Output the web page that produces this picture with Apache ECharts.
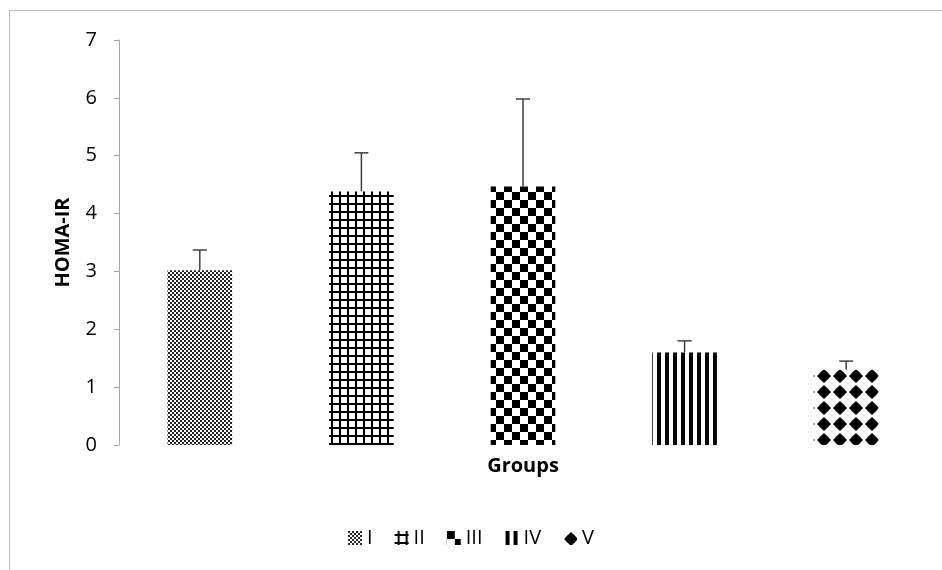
<!DOCTYPE html>
<html>
<head>
<meta charset="utf-8">
<script src="https://cdn.jsdelivr.net/npm/echarts@6/dist/echarts.min.js"></script>
<style>
  html, body { margin: 0; padding: 0; background: #fff; }
  #frame { position: absolute; left: 9px; top: 10px; width: 960px; height: 600px; border-left: 1px solid #bdbdbd; border-top: 1px solid #bdbdbd; }
  #chart { position: absolute; left: 0; top: 0; width: 942px; height: 570px; }
</style>
</head>
<body>
<div id="frame"></div>
<div id="chart"></div>
<script>
const groups = ['I', 'II', 'III', 'IV', 'V']
const homaIR = [3.02, 4.38, 4.47, 1.6, 1.3]
const homaErr = [0.35, 0.67, 1.51, 0.2, 0.15]
const yTicks = [0, 1, 2, 3, 4, 5, 6, 7]

// black & white fills like the original print figure
function makePattern(kind) {
  let size = kind === 'III' || kind === 'V' ? 16 : kind === 'I' ? 4 : 8
  let c = document.createElement('canvas')
  c.width = size
  c.height = size
  let ctx = c.getContext('2d')
  ctx.fillStyle = '#fff'
  ctx.fillRect(0, 0, size, size)
  ctx.fillStyle = '#000'
  if (kind === 'I') {
    ctx.fillStyle = '#222'
    ctx.fillRect(0, 0, 2, 2)
    ctx.fillRect(2, 2, 2, 2)
  } else if (kind === 'II') {
    ctx.fillRect(0, 3, 8, 2)
    ctx.fillRect(3, 0, 2, 8)
  } else if (kind === 'III') {
    ctx.fillRect(0, 0, 8, 8)
    ctx.fillRect(8, 8, 8, 8)
  } else if (kind === 'IV') {
    ctx.fillRect(1, 0, 4, 8)
  } else if (kind === 'V') {
    ctx.beginPath()
    ctx.arc(8, 8, 5, 0, Math.PI * 2)
    ctx.fill()
    ctx.beginPath()
    ctx.moveTo(8, 1)
    ctx.lineTo(15, 8)
    ctx.lineTo(8, 15)
    ctx.lineTo(1, 8)
    ctx.closePath()
    ctx.fill()
  }
  return { image: c, repeat: 'repeat' }
}

let myChart = echarts.init(document.getElementById('chart'))

let barSeries = groups.map(function (g, i) {
  return {
    name: g,
    type: 'bar',
    stack: 'all',
    barWidth: '40%',
    itemStyle: { color: makePattern(g) },
    data: homaIR.map(function (v, j) { return j === i ? v : '-' })
  }
})

let errSeries = {
  type: 'custom',
  silent: true,
  z: 1,
  data: homaIR.map(function (v, i) { return [i, v, v + homaErr[i]] }),
  renderItem: function (params, api) {
    let base = api.coord([api.value(0), api.value(1)])
    let top = api.coord([api.value(0), api.value(2)])
    let style = { stroke: '#404040', lineWidth: 1.5 }
    return {
      type: 'group',
      children: [
        { type: 'line', shape: { x1: base[0], y1: base[1], x2: top[0], y2: top[1] }, style: style },
        { type: 'line', shape: { x1: top[0] - 7, y1: top[1], x2: top[0] + 7, y2: top[1] }, style: style }
      ]
    }
  }
}

var option = {
  backgroundColor: 'transparent',
  textStyle: { fontFamily: 'Open Sans' },
  animation: false,
  grid: { left: 119, right: 15, top: 40, bottom: 125 },
  legend: {
    data: groups,
    bottom: 17,
    left: 'center',
    itemWidth: 14,
    itemHeight: 14,
    itemGap: 22,
    icon: 'rect',
    textStyle: { fontSize: 20, color: '#000', fontFamily: 'Open Sans' }
  },
  xAxis: {
    type: 'category',
    data: groups,
    name: 'Groups',
    nameLocation: 'middle',
    nameGap: 11,
    nameTextStyle: { fontSize: 20, fontWeight: 'bold', color: '#000' },
    axisLine: { show: false },
    axisTick: { show: false },
    axisLabel: { show: false }
  },
  yAxis: {
    type: 'value',
    min: yTicks[0],
    max: yTicks[yTicks.length - 1],
    interval: 1,
    name: 'HOMA-IR',
    nameLocation: 'middle',
    nameGap: 46,
    nameTextStyle: { fontSize: 20, fontWeight: 'bold', color: '#000' },
    axisLine: { show: true, lineStyle: { color: '#a6a6a6', width: 1 } },
    axisTick: { show: true, length: 5, lineStyle: { color: '#a6a6a6' } },
    axisLabel: { fontSize: 20, color: '#000', margin: 22 },
    splitLine: { show: false }
  },
  series: barSeries.concat([errSeries])
}

myChart.setOption(option)
</script>
</body>
</html>
